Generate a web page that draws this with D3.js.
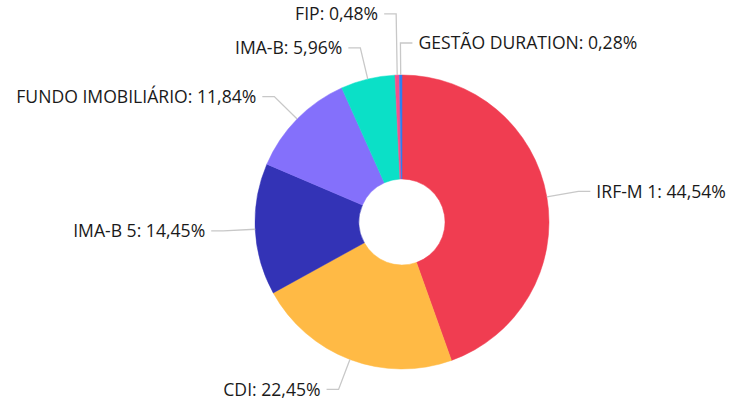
<!DOCTYPE html>
<html>
  <head>
    <meta charset="utf-8">
    <title>Carteira</title>
    <script src="https://d3js.org/d3.v7.min.js"></script>
    <style>
      body { margin: 0; background: #fff; }
      text { font-family: "Open Sans", sans-serif; font-size: 17.6px; fill: #1a1a1a; }
    </style>
  </head>
  <body>
    <svg width="731" height="406"></svg>
  <script>
    // data, clockwise from 12 o'clock
    var categories = ["IRF-M 1", "CDI", "IMA-B 5", "FUNDO IMOBILIÁRIO", "IMA-B", "FIP", "GESTÃO DURATION"];
    var values = [44.54, 22.45, 14.45, 11.84, 5.96, 0.48, 0.28];
    var colors = ["#f03d51", "#ffba45", "#3333b6", "#8470fb", "#0be0c7", "#f4508c", "#2f7ff0"];

    var svg = d3.select("svg"),
        cx = 402, cy = 222,
        outer = 147, inner = 43,
        lineR = 179, len2 = 12, gap = 6, minSpace = 34;

    var data = categories.map(function(c, i) { return { name: c, value: values[i], color: colors[i] }; });

    var pie = d3.pie().sort(null).value(function(d) { return d.value; });
    var arc = d3.arc().innerRadius(inner).outerRadius(outer);

    var g = svg.append("g").attr("transform", "translate(" + cx + "," + cy + ")");
    var arcs = pie(data);

    g.selectAll("path.slice")
      .data(arcs)
      .enter().append("path")
      .attr("class", "slice")
      .attr("d", arc)
      .attr("fill", function(d) { return d.data.color; })
      .attr("stroke", function(d) { return d.data.color; })
      .attr("stroke-width", 0.5);

    // label layout: elbow line, labels pushed apart per side
    var labels = arcs.map(function(d) {
      var a = (d.startAngle + d.endAngle) / 2;
      var s = Math.sin(a), c = Math.cos(a);
      return {
        d: d,
        p0: [outer * s, -outer * c],
        x1: lineR * s,
        y: -lineR * c,
        right: s > -0.02
      };
    });

    [true, false].forEach(function(side) {
      var list = labels.filter(function(l) { return l.right === side; })
                       .sort(function(a, b) { return b.y - a.y; });
      for (var i = 1; i < list.length; i++) {
        if (list[i - 1].y - list[i].y < minSpace) list[i].y = list[i - 1].y - minSpace;
      }
    });

    g.selectAll("polyline.lead")
      .data(labels)
      .enter().append("polyline")
      .attr("class", "lead")
      .attr("fill", "none")
      .attr("stroke", "#c8c8c8")
      .attr("stroke-width", 1.3)
      .attr("points", function(l) {
        var x2 = l.x1 + (l.right ? len2 : -len2);
        return [l.p0, [l.x1, l.y], [x2, l.y]].map(function(p) { return p.join(","); }).join(" ");
      });

    g.selectAll("text.lbl")
      .data(labels)
      .enter().append("text")
      .attr("class", "lbl")
      .attr("x", function(l) { return l.x1 + (l.right ? len2 + gap : -len2 - gap); })
      .attr("y", function(l) { return l.y; })
      .attr("dy", "0.35em")
      .attr("text-anchor", function(l) { return l.right ? "start" : "end"; })
      .text(function(l) { return l.d.data.name + ": " + d3.format(".2f")(l.d.data.value).replace(".", ",") + "%"; });
  </script>
  </body>
</html>
